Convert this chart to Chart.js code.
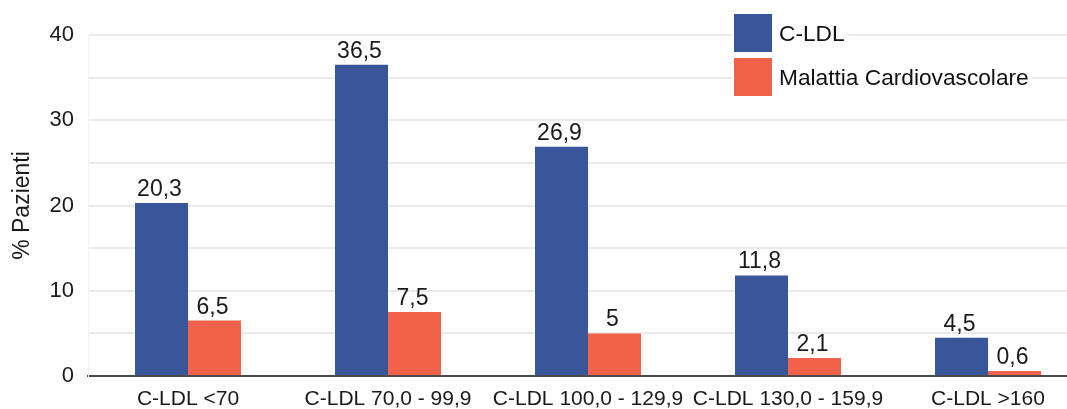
<!DOCTYPE html>
<html lang="it">
<head>
<meta charset="utf-8">
<title>C-LDL e Malattia Cardiovascolare</title>
<script src="https://cdn.jsdelivr.net/npm/chart.js@4/dist/chart.umd.min.js"></script>
<style>
  html, body { margin: 0; padding: 0; background: #ffffff; overflow: hidden; }
  #wrap { width: 1067px; height: 409px; overflow: hidden; position: relative; }
  canvas { display: block; }
</style>
</head>
<body>
<div id="wrap"><canvas id="chart" width="1100" height="409"></canvas></div>
<script>
// Fasce di C-LDL (mg/dL)
const categories = ['C-LDL <70', 'C-LDL 70,0 - 99,9', 'C-LDL 100,0 - 129,9', 'C-LDL 130,0 - 159,9', 'C-LDL >160'];
// % pazienti per fascia
const cldlValues = [20.3, 36.5, 26.9, 11.8, 4.5];
// % pazienti con malattia cardiovascolare
const cvdValues = [6.5, 7.5, 5, 2.1, 0.6];
const seriesNames = ['C-LDL', 'Malattia Cardiovascolare'];
const yTickLabels = [0, 10, 20, 30, 40];

const BLUE = '#385699';
const ORANGE = '#F0634A';
const FONT = '"Liberation Sans", Arial, Helvetica, sans-serif';

const fmt = v => String(v).replace('.', ',');

// value labels above each bar
const valueLabels = {
  id: 'valueLabels',
  afterDatasetsDraw(chart) {
    const ctx = chart.ctx;
    ctx.save();
    ctx.font = '23px ' + FONT;
    ctx.fillStyle = '#1a1a1a';
    ctx.textAlign = 'center';
    ctx.textBaseline = 'alphabetic';
    chart.data.datasets.forEach((ds, i) => {
      chart.getDatasetMeta(i).data.forEach((bar, j) => {
        ctx.fillText(fmt(ds.data[j]), bar.x - 2, bar.y - 7);
      });
    });
    ctx.restore();
  }
};

// legend boxes inside the plot, top right
const insideLegend = {
  id: 'insideLegend',
  afterDraw(chart) {
    const ctx = chart.ctx;
    ctx.save();
    ctx.font = '22.7px ' + FONT;
    ctx.textBaseline = 'middle';
    ctx.textAlign = 'left';
    const x0 = 734, box = 38, rowH = 44, top = 14;
    chart.data.datasets.forEach((ds, i) => {
      const y = top + i * rowH;
      const w = ctx.measureText(ds.label).width;
      ctx.fillStyle = '#ffffff';
      ctx.fillRect(x0 - 2, y - 2, box + 9 + w + 4, box + 4);
      ctx.fillStyle = ds.backgroundColor;
      ctx.fillRect(x0, y, box, box);
      ctx.fillStyle = '#111111';
      ctx.fillText(ds.label, x0 + box + 7, y + box / 2 + 2);
    });
    ctx.restore();
  }
};

new Chart(document.getElementById('chart'), {
  type: 'bar',
  data: {
    labels: categories,
    datasets: [
      { label: seriesNames[0], data: cldlValues, backgroundColor: BLUE },
      { label: seriesNames[1], data: cvdValues, backgroundColor: ORANGE }
    ]
  },
  options: {
    responsive: false,
    animation: false,
    devicePixelRatio: 1,
    layout: { padding: { left: 0, top: 35, right: 12, bottom: 0 } },
    datasets: {
      bar: { barPercentage: 1, categoryPercentage: 0.53, borderWidth: 0 }
    },
    plugins: {
      legend: { display: false },
      tooltip: { enabled: false }
    },
    scales: {
      x: {
        grid: { display: false },
        border: { display: true, color: '#4a4a4a', width: 2 },
        ticks: {
          color: '#1a1a1a',
          font: { family: FONT, size: 21 },
          padding: 3,
          maxRotation: 0,
          autoSkip: false
        },
        afterFit(scale) { scale.height = 33; }
      },
      y: {
        min: 0,
        max: 40,
        border: { display: true, color: '#f3f3f3', width: 1 },
        grid: {
          drawTicks: false,
          lineWidth: 2,
          color: ctx => (ctx.tick && ctx.tick.value === 0) ? 'rgba(0,0,0,0)' : '#ebebeb'
        },
        ticks: {
          stepSize: 5,
          padding: 14,
          color: '#1a1a1a',
          font: { family: FONT, size: 22 },
          callback: v => yTickLabels.includes(v) ? String(v) : ''
        },
        title: {
          display: true,
          text: '% Pazienti',
          color: '#1a1a1a',
          font: { family: FONT, size: 23 },
          padding: { top: 9, bottom: 0 }
        },
        afterFit(scale) { scale.width = 88; }
      }
    }
  },
  plugins: [valueLabels, insideLegend]
});
</script>
</body>
</html>
